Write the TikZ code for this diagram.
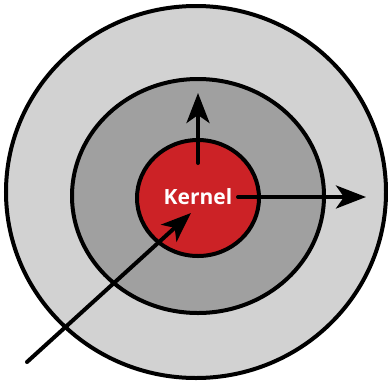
\documentclass[tikz,border=0pt]{standalone}
\usepackage{fontspec}
\setmainfont{Open Sans}
\usetikzlibrary{arrows.meta}
\definecolor{outerg}{RGB}{210,210,210}
\definecolor{midg}{RGB}{160,160,160}
\definecolor{kred}{RGB}{204,34,38}
\begin{document}
\begin{tikzpicture}[x=1pt,y=-1pt,
  ring/.style={draw=black,line width=4pt},
  arr/.style={line width=4pt,line cap=round,-{Stealth[length=30pt,width=23pt,inset=8pt]}}]
\useasboundingbox (0,0) rectangle (388,381);
\fill[white] (0,0) rectangle (388,381);
\draw[ring,fill=outerg] (196,192) ellipse [x radius=190pt, y radius=186pt];
\draw[ring,fill=midg] (198,196) ellipse [x radius=126pt, y radius=117pt];
\draw[ring,fill=kred] (198,198) ellipse [x radius=61pt, y radius=58pt];
\node[text=white,font=\bfseries\fontsize{21}{22}\selectfont] (k) at (198,197) {Kernel};
\coordinate (u0) at (198,163);
\coordinate (u1) at (198,93);
\coordinate (r0) at (238,197);
\coordinate (r1) at (366,197);
\coordinate (d0) at (27,362);
\coordinate (d1) at (191,213);
\draw[arr] (u0) -- (u1);
\draw[arr] (r0) -- (r1);
\draw[arr] (d0) -- (d1);
\end{tikzpicture}
\end{document}
